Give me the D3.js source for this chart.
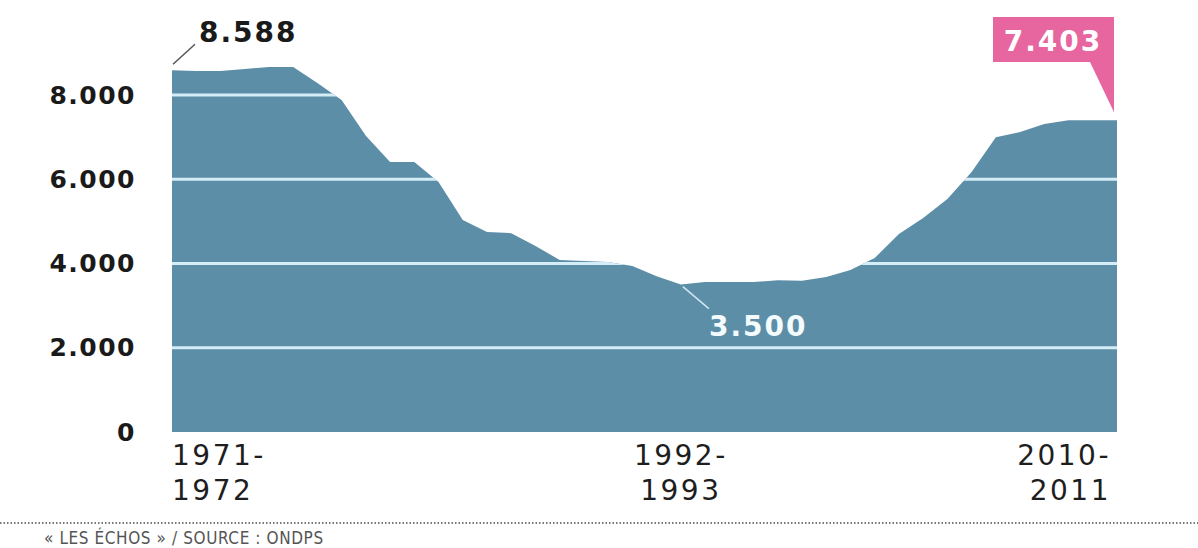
<!DOCTYPE html>
<html>
<head>
<meta charset="utf-8">
<script src="https://cdn.jsdelivr.net/npm/d3@7"></script>
<style>
body{margin:0;background:#fff}
svg{display:block}
</style>
</head>
<body>
<svg id="main_svg" width="1198" height="548"></svg>
<script>
// numerus clausus, 1971-1972 .. 2010-2011
let years = d3.range(1971, 2011)
let values = [8588, 8570, 8570, 8620, 8665, 8665, 8285, 7880, 7030, 6410,
    6410, 5935, 5030, 4750, 4720, 4415, 4085, 4060, 4035, 3940,
    3700, 3500, 3560, 3560, 3560, 3600, 3590, 3680, 3845, 4130,
    4700, 5080, 5530, 6170, 7000, 7120, 7310, 7400, 7400, 7403]
let y_ticks = [0, 2000, 4000, 6000, 8000]
let x_labels = [
    {year: 1971, lines: ["1971-", "1972"], anchor: "start"},
    {year: 1992, lines: ["1992-", "1993"], anchor: "middle"},
    {year: 2010, lines: ["2010-", "2011"], anchor: "end"}
]
let source_text = "« LES ÉCHOS » / SOURCE : ONDPS"

let data = years.map((y, i) => ({year: y, value: values[i]}))

let svg = d3.select("svg")
let x = d3.scaleLinear().domain([1971, 2010]).range([172, 1117])
let y = d3.scaleLinear().domain([0, 8000]).range([432, 95])

let fmt = v => d3.format(",")(v).replace(",", ".")

let area = d3.area()
    .x(d => x(d.year))
    .y0(y(0))
    .y1(d => y(d.value))

svg.append("clipPath")
    .attr("id", "area_clip")
    .append("path")
    .attr("d", area(data))

svg.append("path")
    .attr("d", area(data))
    .attr("fill", "#5d8ea8")

// grid lines only visible over the area
svg.append("g")
    .attr("clip-path", "url(#area_clip)")
    .selectAll("line")
    .data(y_ticks.filter(t => t > 0))
    .enter()
    .append("line")
    .attr("x1", x(1971))
    .attr("x2", x(2010))
    .attr("y1", d => y(d))
    .attr("y2", d => y(d))
    .attr("stroke", "#d4edf6")
    .attr("stroke-width", 3)

// y axis
let yAxis = d3.axisLeft(y).tickValues(y_ticks).tickFormat(fmt).tickSize(0).tickPadding(0)
let gy = svg.append("g")
    .attr("transform", "translate(136,0)")
    .call(yAxis)
gy.select(".domain").remove()
gy.selectAll("text")
    .attr("font-family", "DejaVu Sans")
    .attr("font-weight", "bold")
    .attr("font-size", 25)
    .attr("letter-spacing", 1.5)
    .attr("fill", "#1a1a1a")

// x labels
let gx = svg.append("g")
x_labels.forEach(l => {
    let lx = x(l.year) + (l.anchor == "end" ? -6 : 0)
    let t = gx.append("text")
        .attr("text-anchor", l.anchor)
        .attr("font-family", "DejaVu Sans")
        .attr("font-size", 28)
        .attr("letter-spacing", 2.5)
        .attr("fill", "#1e1e1e")
    l.lines.forEach((s, j) => {
        t.append("tspan")
            .attr("x", lx)
            .attr("y", 465 + j * 35)
            .text(s)
    })
})

// annotations
let first = data[0]
let last = data[data.length - 1]
let low = data[d3.minIndex(data, d => d.value)]

svg.append("line")
    .attr("x1", x(first.year) + 1).attr("y1", y(first.value) - 6)
    .attr("x2", x(first.year) + 23).attr("y2", y(first.value) - 26)
    .attr("stroke", "#555").attr("stroke-width", 1.5)
svg.append("text")
    .attr("x", 199).attr("y", 42)
    .attr("font-family", "DejaVu Sans").attr("font-weight", "bold")
    .attr("font-size", 28).attr("letter-spacing", 2)
    .attr("fill", "#1a1a1a")
    .text(fmt(first.value))

svg.append("line")
    .attr("x1", x(low.year) + 2).attr("y1", y(low.value) + 2)
    .attr("x2", x(low.year) + 28).attr("y2", y(low.value) + 24)
    .attr("stroke", "#cfe7f1").attr("stroke-width", 1.5)
svg.append("text")
    .attr("x", 709).attr("y", 336)
    .attr("font-family", "DejaVu Sans").attr("font-weight", "bold")
    .attr("font-size", 28).attr("letter-spacing", 2)
    .attr("fill", "#f4fbfd")
    .text(fmt(low.value))

let bx = x(last.year)
svg.append("path")
    .attr("d", "M" + (bx - 124) + ",17 H" + (bx - 3) + " V" + (y(last.value) - 8)
        + " L" + (bx - 27) + ",62 H" + (bx - 124) + " Z")
    .attr("fill", "#e8669f")
svg.append("text")
    .attr("x", bx - 64).attr("y", 51)
    .attr("text-anchor", "middle")
    .attr("font-family", "DejaVu Sans").attr("font-weight", "bold")
    .attr("font-size", 28).attr("letter-spacing", 2)
    .attr("fill", "#fff")
    .text(fmt(last.value))

// footer
svg.append("line")
    .attr("x1", 0).attr("x2", 1198)
    .attr("y1", 523).attr("y2", 523)
    .attr("stroke", "#777").attr("stroke-width", 2)
    .attr("stroke-dasharray", "1.5,2")
svg.append("text")
    .attr("x", 44).attr("y", 544)
    .attr("font-family", "DejaVu Sans Condensed")
    .attr("font-size", 17)
    .attr("letter-spacing", 0.6)
    .attr("fill", "#555")
    .text(source_text)
</script>
</body>
</html>
